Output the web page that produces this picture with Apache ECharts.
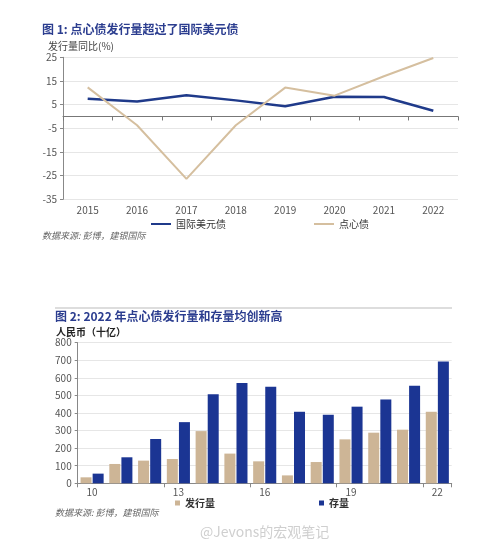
<!DOCTYPE html>
<html><head><meta charset="utf-8">
<script src="https://cdn.jsdelivr.net/npm/echarts@6/dist/echarts.min.js"></script>
<style>html,body{margin:0;padding:0;background:#fff}#c{width:500px;height:545px}</style>
</head><body><div id="c"></div>
<script>
const years = ['2015','2016','2017','2018','2019','2020','2021','2022'];
const usdBond = [7.5, 6.3, 9.0, 6.8, 4.3, 8.3, 8.2, 2.4];
const dimSum = [12.3, -3.7, -26.4, -3.7, 12.2, 8.8, 17.0, 24.7];
const barYears = ['10','11','12','13','14','15','16','17','18','19','20','21','22'];
const issuance = [34, 110, 129, 138, 297, 169, 125, 45, 121, 250, 288, 305, 407];
const outstanding = [55, 148, 252, 348, 506, 570, 549, 407, 390, 436, 477, 555, 693];

const blue = '#1f3a8a', tan = '#d5bf9f';
const barBlue = '#1b3593', barTan = '#cdb596';
const font = '"Noto Sans CJK SC", "Noto Sans", sans-serif';
const chart = echarts.init(document.getElementById('c'));
chart.setOption({
  animation: false,
  textStyle: {fontFamily: font},
  graphic: [
    {type:'text', left:42, top:23, style:{text:'图 1: 点心债发行量超过了国际美元债', fill:'#2b3d8f', font:'bold 12px '+font}},
    {type:'text', left:48, top:41, style:{text:'发行量同比(%)', fill:'#444', font:'10px '+font}},
    {type:'text', left:42, top:231, style:{text:'数据来源: 彭博，建银国际', fill:'#666', font:'italic 9px '+font}},
    {type:'line', shape:{x1:55, y1:308, x2:452, y2:308}, style:{stroke:'#bbb', lineWidth:1}},
    {type:'text', left:55, top:310, style:{text:'图 2: 2022 年点心债发行量和存量均创新高', fill:'#2b3d8f', font:'bold 12px '+font}},
    {type:'text', left:56, top:327, style:{text:'人民币（十亿）', fill:'#222', font:'bold 10px '+font}},
    {type:'text', left:55, top:508, style:{text:'数据来源: 彭博，建银国际', fill:'#666', font:'italic 9px '+font}},
    {type:'text', left:200, top:525, style:{text:'@Jevons的宏观笔记', fill:'#cfcfcf', font:'14px '+font}}
  ],
  legend: [
    {left:146, top:214, itemWidth:20, itemHeight:2, itemGap:88, icon:'rect',
     textStyle:{fontSize:10, color:'#333'}, data:['国际美元债','点心债']},
    {left:170, top:493, itemWidth:5, itemHeight:5, itemGap:104, icon:'rect',
     textStyle:{fontSize:10, color:'#333', fontWeight:'bold'}, data:['发行量','存量']}
  ],
  grid: [
    {left:63, right:42, top:57.3, bottom:345.7},
    {left:77.7, right:48.3, top:342.7, bottom:61.7}
  ],
  xAxis: [
    {type:'category', gridIndex:0, data:years, boundaryGap:true,
     axisLine:{onZero:true, lineStyle:{color:'#777'}}, axisTick:{show:true, length:4, lineStyle:{color:'#777'}},
     axisLabel:{show:false}},
    {type:'category', gridIndex:0, data:years, position:'bottom', boundaryGap:true,
     axisLine:{show:false, onZero:false}, axisTick:{show:false},
     axisLabel:{color:'#555', fontSize:10, margin:6}},
    {type:'category', gridIndex:1, data:barYears, boundaryGap:true,
     axisLine:{lineStyle:{color:'#888'}}, axisTick:{show:true, interval:2, length:4, lineStyle:{color:'#888'}},
     axisLabel:{interval:2, color:'#555', fontSize:10, margin:4}}
  ],
  yAxis: [
    {type:'value', gridIndex:0, min:-35, max:25, interval:10,
     axisLine:{show:true, lineStyle:{color:'#888'}}, axisTick:{show:true, length:3, lineStyle:{color:'#888'}},
     axisLabel:{color:'#555', fontSize:10, margin:6},
     splitLine:{lineStyle:{color:'#e6e6e6'}}},
    {type:'value', gridIndex:1, min:0, max:800, interval:100,
     axisLine:{show:true, lineStyle:{color:'#888'}}, axisTick:{show:true, length:3, lineStyle:{color:'#888'}},
     axisLabel:{color:'#555', fontSize:10, margin:6},
     splitLine:{lineStyle:{color:'#e6e6e6'}}}
  ],
  series: [
    {name:'国际美元债', type:'line', xAxisIndex:0, yAxisIndex:0, data:usdBond, symbol:'none',
     lineStyle:{color:blue, width:2.5}, itemStyle:{color:blue}},
    {name:'点心债', type:'line', xAxisIndex:0, yAxisIndex:0, data:dimSum, symbol:'none',
     lineStyle:{color:tan, width:2}, itemStyle:{color:tan}},
    {name:'发行量', type:'bar', xAxisIndex:2, yAxisIndex:1, data:issuance, barWidth:11, barGap:'10%',
     itemStyle:{color:barTan}},
    {name:'存量', type:'bar', xAxisIndex:2, yAxisIndex:1, data:outstanding, barWidth:11, barGap:'10%',
     itemStyle:{color:barBlue}}
  ]
});
</script></body></html>
